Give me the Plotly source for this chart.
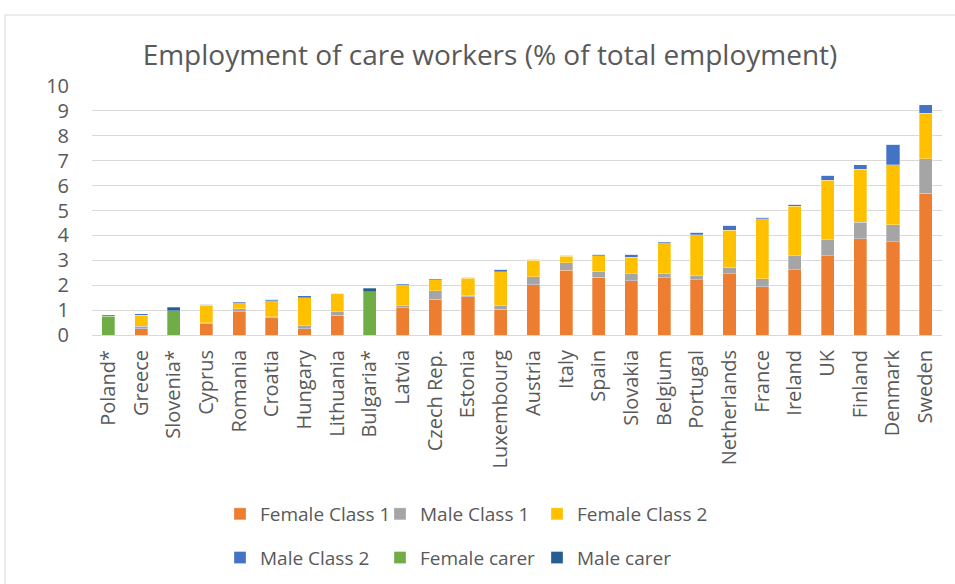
import plotly.graph_objects as go

countries = ["Poland*", "Greece", "Slovenia*", "Cyprus", "Romania", "Croatia", "Hungary",
             "Lithuania", "Bulgaria*", "Latvia", "Czech Rep.", "Estonia", "Luxembourg",
             "Austria", "Italy", "Spain", "Slovakia", "Belgium", "Portugal", "Netherlands",
             "France", "Ireland", "UK", "Finland", "Denmark", "Sweden"]

female_class1 = [0, 0.25, 0, 0.47, 0.94, 0.71, 0.25, 0.80, 0, 1.10, 1.43, 1.54, 1.03,
                 2.01, 2.60, 2.32, 2.18, 2.30, 2.22, 2.46, 1.94, 2.62, 3.19, 3.87, 3.75, 5.70]
male_class1 = [0, 0.11, 0, 0.03, 0.12, 0.02, 0.14, 0.14, 0, 0.08, 0.35, 0.05, 0.17,
               0.33, 0.30, 0.25, 0.28, 0.19, 0.16, 0.27, 0.31, 0.59, 0.64, 0.65, 0.67, 1.37]
female_class2 = [0, 0.44, 0, 0.70, 0.23, 0.65, 1.11, 0.72, 0, 0.83, 0.44, 0.69, 1.34,
                 0.66, 0.26, 0.62, 0.67, 1.22, 1.65, 1.47, 2.42, 1.97, 2.39, 2.13, 2.41, 1.83]
male_class2 = [0, 0.05, 0, 0.04, 0.04, 0.05, 0.08, 0.01, 0, 0.04, 0.03, 0.04, 0.11,
               0.04, 0.04, 0.06, 0.12, 0.04, 0.09, 0.20, 0.06, 0.08, 0.19, 0.18, 0.84, 0.34]
female_carer = [0.76, 0, 0.98, 0, 0, 0, 0, 0, 1.74, 0, 0, 0, 0,
                0, 0, 0, 0, 0, 0, 0, 0, 0, 0, 0, 0, 0]
male_carer = [0.04, 0, 0.14, 0, 0, 0, 0, 0, 0.13, 0, 0, 0, 0,
              0, 0, 0, 0, 0, 0, 0, 0, 0, 0, 0, 0, 0]

y_ticks = list(range(0, 11))

# legend column assignment reproduces the 3-column, 2-row legend layout
series = [
    ("Female Class 1", female_class1, "#ED7D31", "legend"),
    ("Male Class 1", male_class1, "#A5A5A5", "legend2"),
    ("Female Class 2", female_class2, "#FFC000", "legend3"),
    ("Male Class 2", male_class2, "#4472C4", "legend"),
    ("Female carer", female_carer, "#70AD47", "legend2"),
    ("Male carer", male_carer, "#255E91", "legend3"),
]

FONT = "'Open Sans', sans-serif"
TXT = "#595959"

fig = go.Figure()
for name, vals, color, lg in series:
    fig.add_trace(go.Bar(
        x=countries, y=vals, name=name,
        marker=dict(color=color, line=dict(color="rgba(255,255,255,0.6)", width=0.5)),
        legend=lg, legendgroup=name,
    ))

W, H = 955, 584
L, R, T, B = 92, 13, 86, 249
pw = W - L - R
ph = H - T - B


def px_to_paper_x(px):
    return (px - L) / pw


def px_to_paper_y(py):
    return (H - B - py) / ph


legend_common = dict(
    orientation="v", xanchor="left", yanchor="top",
    font=dict(size=19, family=FONT, color=TXT),
    traceorder="grouped", tracegroupgap=16, itemclick=False,
    bgcolor="rgba(0,0,0,0)",
)
leg_top = px_to_paper_y(495)

fig.update_layout(
    width=W, height=H,
    margin=dict(l=L, r=R, t=T, b=B, autoexpand=False),
    barmode="stack",
    bargap=0.6,
    plot_bgcolor="white",
    paper_bgcolor="white",
    font=dict(family=FONT, color=TXT),
    title=dict(
        text="Employment of care workers (% of total employment)",
        x=490 / W, xanchor="center", xref="container",
        y=1 - 55 / H, yanchor="middle",
        font=dict(size=28, family=FONT, color=TXT),
    ),
    xaxis=dict(
        tickangle=-90,
        tickfont=dict(size=20, family=FONT, color=TXT),
        showline=True, linecolor="#d9d9d9", linewidth=1,
        ticks="", showgrid=False,
        ticklabelstandoff=6,
    ),
    yaxis=dict(
        range=[0, 10],
        tickvals=y_ticks,
        tickfont=dict(size=20, family=FONT, color=TXT),
        showgrid=True, gridcolor="#d9d9d9", gridwidth=1,
        zeroline=False, showline=False, ticks="",
        ticklabelstandoff=22,
    ),
    legend=dict(legend_common, x=px_to_paper_x(220), y=leg_top),
    legend2=dict(legend_common, x=px_to_paper_x(380), y=leg_top),
    legend3=dict(legend_common, x=px_to_paper_x(537), y=leg_top),
    shapes=[dict(
        type="rect", xref="paper", yref="paper",
        x0=px_to_paper_x(5), x1=px_to_paper_x(990),
        y0=px_to_paper_y(640), y1=px_to_paper_y(15),
        line=dict(color="#d9d9d9", width=1), fillcolor="rgba(0,0,0,0)", layer="below",
    )],
)

fig.write_html("out.html", config={"displayModeBar": False},
               post_script="document.body.style.margin='0';")
